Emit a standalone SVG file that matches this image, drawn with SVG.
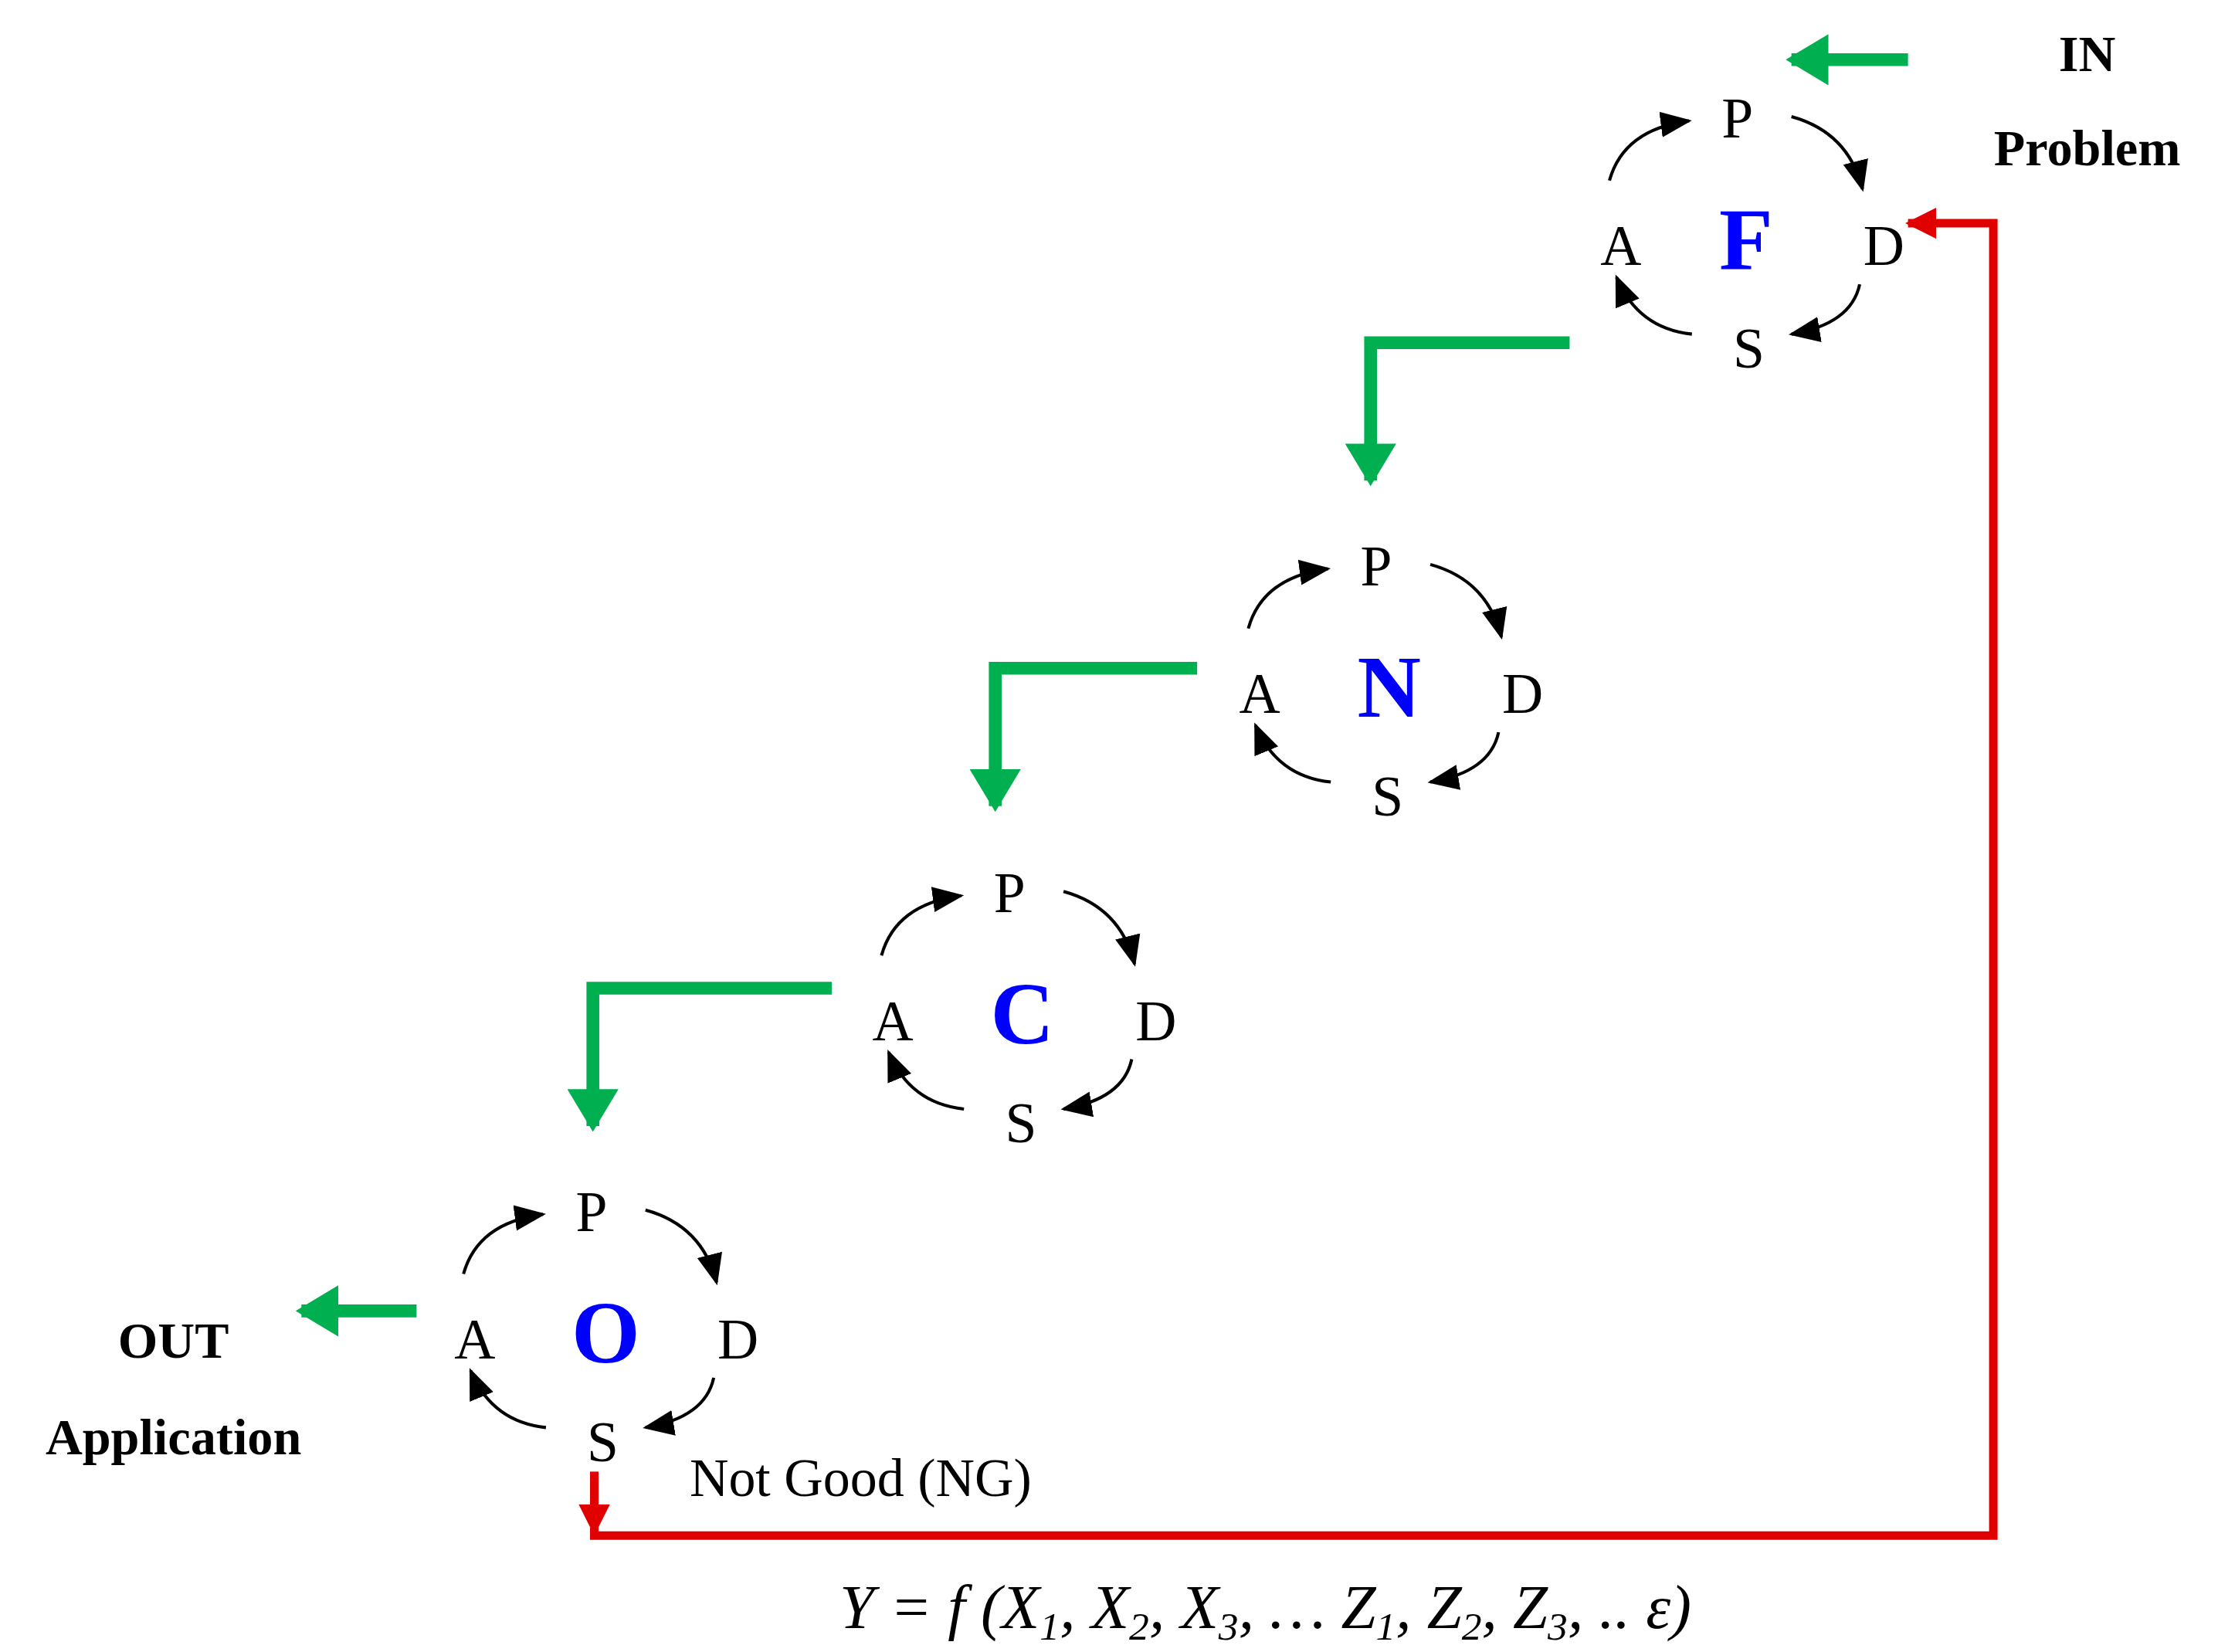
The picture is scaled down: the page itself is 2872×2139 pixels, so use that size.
<svg xmlns="http://www.w3.org/2000/svg" width="2872" height="2139" viewBox="0 0 2872 2139">
<defs>
<marker id="ab" markerWidth="8" markerHeight="8" refX="6" refY="4" orient="auto" markerUnits="userSpaceOnUse" viewBox="0 0 8 8"><path d="M0,0 L8,4 L0,8 L2,4 Z" fill="#000"/></marker>
<marker id="ag" markerWidth="30" markerHeight="36" refX="26" refY="18" orient="auto" markerUnits="userSpaceOnUse"><path d="M0,0 L30,18 L0,36 Z" fill="#00b050"/></marker>
<marker id="ar" markerWidth="22" markerHeight="22" refX="20" refY="11" orient="auto" markerUnits="userSpaceOnUse"><path d="M0,0 L22,11 L0,22 Z" fill="#e00000"/></marker>
<style>
text{font-family:"Liberation Serif","Times New Roman",serif;fill:#000}
.l{font-size:40px;text-anchor:middle;dominant-baseline:central}
.c{font-size:62px;font-weight:bold;fill:#0000ff;text-anchor:middle;dominant-baseline:central}
.b{font-size:36px;font-weight:bold;text-anchor:middle}
.arc{fill:none;stroke:#000;stroke-width:2.2;marker-end:url(#arr)}
.g{fill:none;stroke:#00b050;stroke-width:9}
.r{fill:none;stroke:#e00000;stroke-width:6}
</style>
<marker id="arr" markerWidth="24" markerHeight="24" refX="20" refY="12" orient="auto" markerUnits="userSpaceOnUse"><path d="M0,3 L22,12 L0,21 Z" fill="#000"/></marker>
<g id="cyc">
<path class="arc" d="M-90,44 Q-80,8 -34,2"/>
<path class="arc" d="M38,-1 Q78,10 88,50"/>
<path class="arc" d="M86,117 Q80,145 38,152"/>
<path class="arc" d="M-32,152 Q-70,148 -85,112"/>
<text class="l" x="0" y="0">P</text>
<text class="l" x="-82" y="90">A</text>
<text class="l" x="103" y="90">D</text>
<text class="l" x="8" y="162">S</text>
</g>
</defs>
<rect width="2872" height="2139" fill="#fff"/>
<g transform="scale(1.841)">
<g id="nodeF"><use href="#cyc" x="1222" y="83"/><text class="c" x="1228" y="168">F</text></g>
<g id="nodeN"><use href="#cyc" x="968" y="398"/><text class="c" x="977" y="483">N</text></g>
<g id="nodeC"><use href="#cyc" x="710" y="628"/><text class="c" x="719" y="713">C</text></g>
<g id="nodeO"><use href="#cyc" x="416" y="852"/><text class="c" x="426" y="937">O</text></g>
<g id="labels">
<text class="b" x="1468" y="50">IN</text>
<text class="b" x="1468" y="116">Problem</text>
<text class="b" x="122" y="955">OUT</text>
<text class="b" x="122" y="1023">Application</text>
<text x="485" y="1052" font-size="38">Not Good (NG)</text>
<text x="890" y="1145" font-size="44" font-style="italic" text-anchor="middle">Y = f (X<tspan font-size="28" dy="8">1</tspan><tspan dy="-8">, X</tspan><tspan font-size="28" dy="8">2</tspan><tspan dy="-8">, X</tspan><tspan font-size="28" dy="8">3</tspan><tspan dy="-8">,  … Z</tspan><tspan font-size="28" dy="8">1</tspan><tspan dy="-8">, Z</tspan><tspan font-size="28" dy="8">2</tspan><tspan dy="-8">, Z</tspan><tspan font-size="28" dy="8">3</tspan><tspan dy="-8">, .. ε)</tspan></text>
</g>
<g id="connectors">
<path class="g" d="M1342,42 H1260" marker-end="url(#ag)"/>
<path class="g" d="M1104,241 H964 V338" marker-end="url(#ag)"/>
<path class="g" d="M842,470 H700 V567" marker-end="url(#ag)"/>
<path class="g" d="M585,695 H417 V792" marker-end="url(#ag)"/>
<path class="g" d="M293,922 H212" marker-end="url(#ag)"/>
<path class="r" d="M418,1035 V1078" marker-end="url(#ar)"/>
<path class="r" d="M415,1080 H1402 V157 H1342" marker-end="url(#ar)"/>
</g>
</g>
</svg>
